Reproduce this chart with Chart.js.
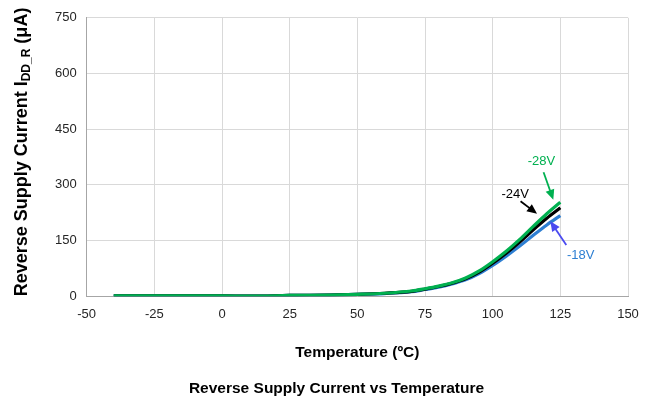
<!DOCTYPE html>
<html>
<head>
<meta charset="utf-8">
<script src="https://cdn.jsdelivr.net/npm/chart.js@4/dist/chart.umd.min.js"></script>
<style>
  html, body { margin: 0; padding: 0; background: #fff; }
  #wrap { width: 658px; height: 403px; }
</style>
</head>
<body>
<div id="wrap"><canvas id="irevChart" width="658" height="403"></canvas></div>
<script>
const temps = [-40, -25, 0, 10, 20, 25, 40, 50, 60, 70, 75, 80, 85, 90, 95, 100, 105, 110, 115, 120, 125];
// reverse supply current (µA) for each supply
const i28V = [1, 1, 1, 0, 1, 2, 3, 5, 8, 14, 20, 27, 36, 49, 68, 93, 121, 153, 188, 222, 253];
const i24V = [1, 1, 1, 0, 1, 2, 3, 5, 8, 13, 19, 26, 35, 47, 65, 89, 116, 146, 179, 210, 238];
const i18V = [1, 1, 1, 0, 1, 2, 3, 5, 7, 12, 18, 24, 33, 44, 61, 83, 108, 135, 164, 192, 217];
const xTicks = [-50, -25, 0, 25, 50, 75, 100, 125, 150];
const yTicks = [0, 150, 300, 450, 600, 750];

const green = '#00b050';
const blue = '#2e7fd2';
const fam = '"Liberation Sans", Arial, sans-serif';

function pts(vals) {
    return temps.map((t, i) => ({ x: t, y: vals[i] }));
}

// labels with arrows, in data units
const callouts = [
    { text: '-28V', color: green, arrow: green, tx: 118, ty: 363, from: [118.8, 334], to: [122.4, 260] },
    { text: '-24V', color: '#000', arrow: '#000', tx: 108.3, ty: 274, from: [110.3, 256], to: [116.4, 222] },
    { text: '-18V', color: blue, arrow: '#4a4af0', tx: 132.5, ty: 111, from: [127.2, 138], to: [121.3, 202] }
];

const extras = {
    id: 'extras',
    afterDraw(chart) {
        const ctx = chart.ctx;
        const xs = chart.scales.x, ys = chart.scales.y;
        ctx.save();
        callouts.forEach(c => {
            ctx.font = '13px ' + fam;
            ctx.fillStyle = c.color;
            ctx.textAlign = 'center';
            ctx.textBaseline = 'middle';
            ctx.fillText(c.text, xs.getPixelForValue(c.tx), ys.getPixelForValue(c.ty));
            const x1 = xs.getPixelForValue(c.from[0]), y1 = ys.getPixelForValue(c.from[1]);
            const x2 = xs.getPixelForValue(c.to[0]), y2 = ys.getPixelForValue(c.to[1]);
            const a = Math.atan2(y2 - y1, x2 - x1);
            ctx.strokeStyle = c.arrow;
            ctx.fillStyle = c.arrow;
            ctx.lineWidth = 1.8;
            ctx.beginPath();
            ctx.moveTo(x1, y1);
            ctx.lineTo(x2 - 6 * Math.cos(a), y2 - 6 * Math.sin(a));
            ctx.stroke();
            ctx.beginPath();
            ctx.moveTo(x2, y2);
            ctx.lineTo(x2 - 10 * Math.cos(a) + 4.5 * Math.sin(a), y2 - 10 * Math.sin(a) - 4.5 * Math.cos(a));
            ctx.lineTo(x2 - 10 * Math.cos(a) - 4.5 * Math.sin(a), y2 - 10 * Math.sin(a) + 4.5 * Math.cos(a));
            ctx.closePath();
            ctx.fill();
        });

        // y axis title with subscript
        const big = 'bold 18px ' + fam;
        const small = 'bold 12px ' + fam;
        const parts = [['Reverse Supply Current I', big, 0], ['DD_R', small, 5], [' (μA)', big, 0]];
        let total = 0;
        parts.forEach(p => { ctx.font = p[1]; total += ctx.measureText(p[0]).width; });
        ctx.translate(22, 152);
        ctx.rotate(-Math.PI / 2);
        ctx.fillStyle = '#000';
        ctx.textAlign = 'left';
        ctx.textBaseline = 'middle';
        let px = -total / 2;
        parts.forEach(p => {
            ctx.font = p[1];
            ctx.fillText(p[0], px, p[2]);
            px += ctx.measureText(p[0]).width;
        });
        ctx.restore();
    }
};

const ctx = document.getElementById('irevChart').getContext('2d');
new Chart(ctx, {
    type: 'line',
    data: {
        datasets: [
            { label: '-28V', data: pts(i28V), borderColor: green, order: 1 },
            { label: '-24V', data: pts(i24V), borderColor: '#000', order: 2 },
            { label: '-18V', data: pts(i18V), borderColor: blue, order: 3 }
        ]
    },
    options: {
        responsive: false,
        animation: false,
        layout: { padding: { left: 45, right: 30, top: 14, bottom: 5 } },
        elements: {
            point: { radius: 0 },
            line: { borderWidth: 3.2, cubicInterpolationMode: 'monotone' }
        },
        plugins: {
            legend: { display: false },
            tooltip: { enabled: false },
            title: {
                display: true,
                position: 'bottom',
                text: 'Reverse Supply Current vs Temperature',
                color: '#000',
                font: { family: fam, size: 15.5, weight: 'bold' },
                padding: { top: 17, bottom: 0 }
            }
        },
        scales: {
            x: {
                type: 'linear',
                min: -50,
                max: 150,
                afterBuildTicks: s => { s.ticks = xTicks.map(v => ({ value: v })); },
                grid: { color: '#d9d9d9', drawTicks: false },
                border: { color: '#a6a6a6' },
                ticks: {
                    color: '#262626',
                    padding: 10,
                    font: { family: fam, size: 13 }
                },
                title: {
                    display: true,
                    text: 'Temperature (ºC)',
                    color: '#000',
                    font: { family: fam, size: 15.5, weight: 'bold' },
                    padding: { top: 12, bottom: 0 }
                }
            },
            y: {
                min: 0,
                max: 750,
                afterBuildTicks: s => { s.ticks = yTicks.map(v => ({ value: v })); },
                grid: { color: '#d9d9d9', drawTicks: false },
                border: { color: '#a6a6a6' },
                ticks: {
                    color: '#262626',
                    padding: 10,
                    font: { family: fam, size: 13 }
                }
            }
        }
    },
    plugins: [extras]
});
</script>
</body>
</html>
